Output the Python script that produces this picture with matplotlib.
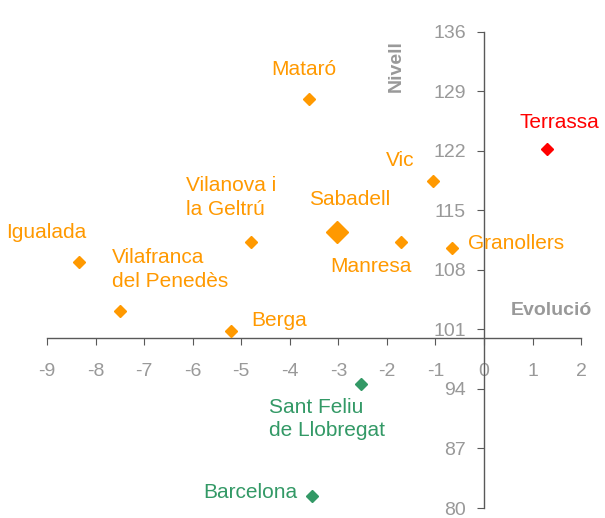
import matplotlib
matplotlib.use("Agg")
import matplotlib.pyplot as plt

plt.rcParams['font.family'] = ['Liberation Sans', 'DejaVu Sans']
plt.rcParams['axes.unicode_minus'] = False

# dades: evolució (x) i nivell (y)
ciutats = ['Mataró', 'Terrassa', 'Vic', 'Vilanova i\nla Geltrú', 'Sabadell', 'Manresa',
           'Granollers', 'Igualada', 'Vilafranca\ndel Penedès', 'Berga',
           'Sant Feliu\nde Llobregat', 'Barcelona']
evolucio = [-3.60, 1.29, -1.06, -4.81, -3.02, -1.71, -0.66, -8.35, -7.50, -5.22, -2.54, -3.55]
nivell = [128.1, 122.15, 118.4, 111.3, 112.4, 111.3, 110.55, 108.95, 103.1, 100.8, 94.55, 81.4]
grup = ['mig', 'alt', 'mig', 'mig', 'mig', 'mig', 'mig', 'mig', 'mig', 'mig', 'baix', 'baix']

x_ticks = list(range(-9, 3))
y_ticks = [80, 87, 94, 101, 108, 115, 122, 129, 136]

colors = {'alt': '#FF0000', 'mig': '#FF9900', 'baix': '#339966'}
# posicio de l'etiqueta (offset en px: dx, dy cap avall, alineacio)
etiq = {
    'Mataró': (-5, -29, 'center'),
    'Terrassa': (13, -27, 'center'),
    'Vic': (-32, -21, 'center'),
    'Vilanova i\nla Geltrú': (-65, -44, 'left'),
    'Sabadell': (12, -33, 'center'),
    'Manresa': (-30, 25, 'center'),
    'Granollers': (16, -5, 'left'),
    'Igualada': (-32, -29, 'center'),
    'Vilafranca\ndel Penedès': (-8, -42, 'left'),
    'Berga': (21, -11, 'left'),
    'Sant Feliu\nde Llobregat': (-92, 35, 'left'),
    'Barcelona': (-14, -4, 'right'),
}

fig = plt.figure(figsize=(6.05, 5.18), dpi=100)
ax = fig.add_axes([0.0779, 0.0193, 0.8825, 0.9197])

for nom, x, y, g in zip(ciutats, evolucio, nivell, grup):
    ms = 11 if nom == 'Sabadell' else 6.2
    ax.plot(x, y, marker='D', ms=ms, color=colors[g], mec=colors[g], ls='none', zorder=5)
    dx, dy, ha = etiq[nom]
    ax.annotate(nom, (x, y), xytext=(dx * 0.72, -dy * 0.72), textcoords='offset points',
                ha=ha, va='center', fontsize=15, color=colors[g],
                multialignment='left', linespacing=1.3)

ax.set_xlim(-9, 2)
ax.set_ylim(80, 136)
ax.set_xticks(x_ticks)
ax.set_yticks(y_ticks)

ax.spines['left'].set_position(('data', 0))
ax.spines['bottom'].set_position(('data', 100))
ax.spines['top'].set_visible(False)
ax.spines['right'].set_visible(False)
for s in ['left', 'bottom']:
    ax.spines[s].set_color('#595959')
    ax.spines[s].set_linewidth(1.0)

ax.tick_params(axis='x', direction='out', length=5, pad=13, colors='#595959',
               labelcolor='#999999', labelsize=14)
ax.tick_params(axis='y', direction='out', length=5, pad=8, colors='#595959',
               labelcolor='#999999', labelsize=14)
ax.patch.set_visible(False)

ax.text(-1.8, 132.0, 'Nivell', rotation=90, ha='center', va='center',
        fontsize=14, fontweight='bold', color='#999999')
ax.text(1.38, 103.2, 'Evolució', ha='center', va='center',
        fontsize=14, fontweight='bold', color='#999999')

fig.savefig('out.png', dpi=100)
